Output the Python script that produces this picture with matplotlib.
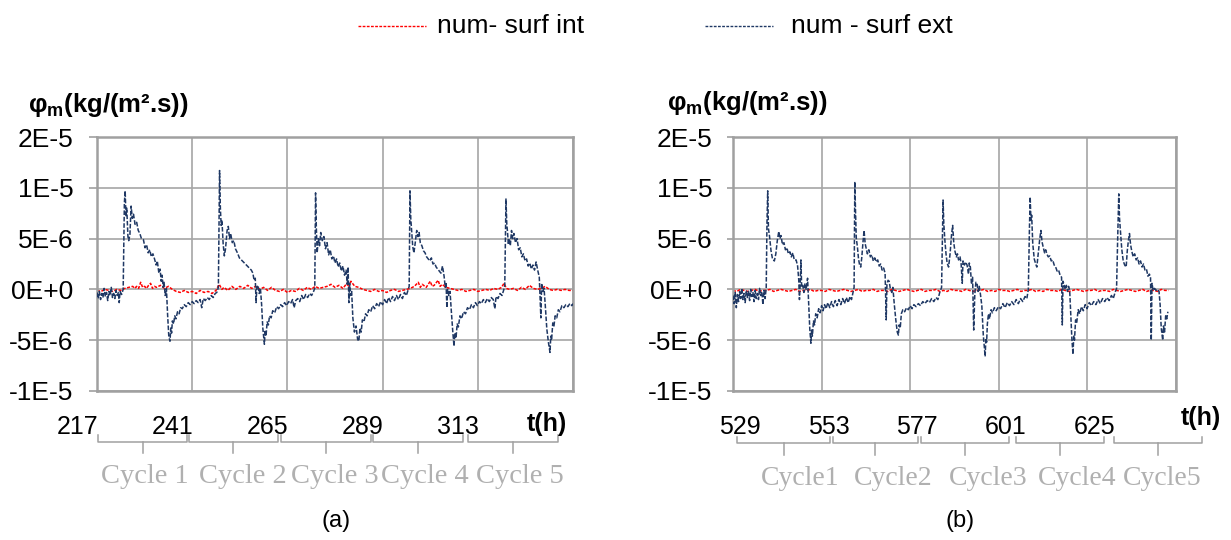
import numpy as np
import matplotlib.pyplot as plt
from matplotlib.lines import Line2D
from matplotlib.transforms import blended_transform_factory, ScaledTranslation

plt.rcParams['font.family'] = ['Liberation Sans', 'DejaVu Sans']
plt.rcParams['mathtext.fontset'] = 'custom'
plt.rcParams['mathtext.rm'] = 'Liberation Sans'
plt.rcParams['mathtext.bf'] = 'Liberation Sans:bold'

# ---------------------------------------------------------------- data
# mass flux values in units of 1E-6 kg/(m2.s), time in hours
series_names = ['num- surf int', 'num - surf ext']

# panel (a) : exterior surface (t, value)
a_blue = [
    (217.0, -0.3), (217.3, -0.9), (217.6, -0.2), (217.9, -1.0), (218.2, -0.4), (218.5, -0.8),
    (218.8, 0.1), (219.1, -0.7), (219.4, -0.3), (219.7, -1.1), (220.0, -0.2), (220.3, -0.6),
    (220.6, 0.2), (220.9, -0.8), (221.2, -0.4), (221.5, -0.9), (221.8, -0.1), (222.1, -0.6),
    (222.4, -0.3), (222.6, -1.3), (222.8, -0.2), (223.2, -0.5), (223.6, 0.0),
    (223.9, 8.5), (224.1, 9.7), (224.3, 7.2), (224.5, 8.0), (224.8, 5.2), (225.0, 4.8),
    (225.3, 5.4), (225.6, 8.2), (225.9, 7.0), (226.2, 7.4), (226.6, 6.4), (227.0, 6.6),
    (227.4, 5.8), (227.8, 5.5), (228.2, 5.0), (228.7, 4.9), (229.1, 4.1), (229.5, 4.4),
    (229.9, 3.6), (230.3, 3.9), (230.7, 3.2), (231.1, 3.5), (231.5, 3.0), (231.9, 2.4),
    (232.2, 2.8), (232.6, 1.6), (232.9, 2.0), (233.2, 0.8), (233.4, 1.4), (233.7, 0.2),
    (233.9, 0.7), (234.2, -0.6), (234.5, 0.1), (234.8, -2.5), (235.1, -4.6), (235.4, -5.1),
    (235.6, -3.8), (235.8, -4.3), (236.0, -3.1), (236.3, -3.4), (236.6, -2.6), (236.9, -2.9),
    (237.3, -2.2), (237.7, -2.4), (238.1, -1.8), (238.5, -1.9), (239.0, -1.5), (239.5, -1.7),
    (240.0, -1.3), (240.5, -1.5), (241.0, -1.2), (241.5, -1.4), (242.0, -1.1), (242.5, -1.3),
    (243.0, -1.0), (243.4, -1.8), (243.8, -0.9), (244.3, -1.1), (244.8, -0.8), (245.3, -1.0),
    (245.8, -0.6), (246.3, -0.8), (246.8, -0.4), (247.2, -0.3), (247.6, 0.2),
    (247.9, 11.7), (248.1, 8.0), (248.3, 6.3), (248.5, 6.8), (248.8, 4.5), (249.1, 3.3),
    (249.4, 4.0), (249.8, 5.8), (250.1, 6.2), (250.4, 5.0), (250.7, 5.5), (251.1, 4.6),
    (251.5, 4.8), (251.9, 4.0), (252.4, 3.6), (252.9, 3.1), (253.4, 2.9), (253.9, 2.7),
    (254.4, 2.5), (254.9, 2.3), (255.4, 2.1), (255.9, 1.9), (256.3, 1.6), (256.6, 0.9),
    (256.9, 1.1), (257.1, -1.3), (257.3, 0.2), (257.6, 0.4), (257.9, -0.4), (258.2, 0.1),
    (258.5, -1.5), (258.8, -3.8), (259.2, -5.4), (259.4, -4.0), (259.6, -4.6), (259.9, -3.2),
    (260.2, -3.5), (260.5, -2.6), (260.9, -2.8), (261.3, -2.1), (261.8, -2.3), (262.3, -1.7),
    (262.8, -1.9), (263.3, -1.5), (263.8, -1.7), (264.3, -1.3), (264.8, -1.6), (265.3, -1.2),
    (265.8, -1.4), (266.3, -1.0), (266.7, -1.8), (267.1, -1.1), (267.6, -0.9), (268.1, -1.2),
    (268.6, -0.6), (269.1, -1.0), (269.6, -0.5), (270.1, -0.8), (270.6, -0.4), (271.1, -0.6),
    (271.6, -0.2), (271.9, 0.1),
    (272.1, 9.5), (272.3, 6.0), (272.5, 3.6), (272.8, 5.0), (273.1, 4.3), (273.4, 5.6),
    (273.8, 4.8), (274.2, 5.2), (274.6, 4.0), (275.0, 4.6), (275.4, 3.4), (275.8, 3.9),
    (276.2, 3.0), (276.6, 3.3), (277.0, 2.6), (277.4, 3.0), (277.8, 2.2), (278.2, 2.6),
    (278.6, 1.8), (279.0, 2.3), (279.4, 1.4), (279.8, 1.9), (280.1, 0.5), (280.3, 2.2),
    (280.5, -1.3), (280.7, 0.6), (280.9, -0.6), (281.2, -0.2), (281.5, -2.8), (281.9, -4.2),
    (282.3, -3.6), (282.7, -4.9), (283.0, -5.1), (283.3, -3.8), (283.6, -4.2), (283.9, -3.0),
    (284.3, -3.2), (284.7, -2.4), (285.1, -2.6), (285.5, -2.0), (286.0, -2.2), (286.5, -1.6),
    (287.0, -1.9), (287.5, -1.4), (288.0, -1.7), (288.5, -1.2), (289.0, -1.5), (289.5, -1.0),
    (290.0, -1.4), (290.5, -0.8), (291.0, -1.2), (291.5, -0.7), (292.0, -1.1), (292.5, -0.6),
    (293.0, -1.0), (293.5, -0.5), (294.0, -0.9), (294.5, -0.3), (295.0, -0.6), (295.4, -0.1),
    (295.7, 0.3),
    (295.9, 9.7), (296.1, 7.0), (296.3, 5.9), (296.6, 4.2), (296.9, 3.6), (297.2, 4.5),
    (297.6, 5.8), (297.9, 5.2), (298.2, 5.6), (298.5, 4.6), (298.9, 4.3), (299.3, 3.8),
    (299.7, 3.6), (300.1, 3.2), (300.5, 3.0), (300.9, 2.8), (301.3, 3.1), (301.7, 2.5),
    (302.1, 2.6), (302.5, 2.2), (302.9, 2.0), (303.3, 1.8), (303.7, 1.6), (304.1, 2.3),
    (304.5, 1.3), (304.8, 0.2), (305.0, 0.7), (305.2, -1.8), (305.4, 0.0), (305.7, -0.6),
    (306.0, -0.2), (306.3, -2.0), (306.7, -4.2), (307.0, -5.6), (307.2, -4.3), (307.5, -4.8),
    (307.8, -3.4), (308.1, -3.7), (308.5, -2.6), (308.9, -2.9), (309.4, -2.2), (309.9, -2.4),
    (310.4, -1.8), (310.9, -2.0), (311.4, -1.5), (311.9, -1.8), (312.4, -1.3), (312.9, -1.6),
    (313.4, -1.2), (313.9, -1.4), (314.4, -1.0), (314.9, -1.3), (315.4, -0.9), (315.9, -1.2),
    (316.4, -0.8), (316.9, -1.0), (317.3, -1.9), (317.6, -0.7), (318.1, -0.9), (318.6, -0.4),
    (319.1, -0.6), (319.5, -0.1), (319.8, 0.4),
    (320.1, 8.9), (320.3, 6.5), (320.5, 5.6), (320.7, 4.4), (320.9, 5.0), (321.2, 4.3),
    (321.5, 5.8), (321.8, 5.0), (322.1, 5.5), (322.5, 4.6), (322.9, 5.0), (323.3, 3.9),
    (323.7, 4.1), (324.1, 3.2), (324.5, 3.5), (324.9, 2.8), (325.3, 3.0), (325.7, 2.3),
    (326.1, 2.6), (326.5, 2.0), (326.9, 2.4), (327.3, 1.9), (327.7, 2.7), (328.1, 1.9),
    (328.5, 1.2), (328.9, -2.8), (329.1, 0.6), (329.4, -0.2), (329.7, 0.1), (330.0, -1.5),
    (330.4, -3.9), (330.8, -5.2), (331.2, -6.2), (331.4, -4.6), (331.6, -5.0), (331.9, -3.3),
    (332.2, -3.6), (332.5, -2.6), (332.9, -2.8), (333.3, -2.0), (333.7, -2.2), (334.2, -1.6),
    (334.7, -1.8), (335.2, -1.5), (335.7, -1.7), (336.2, -1.4), (336.7, -1.6), (337.0, -1.4),
]

# panel (a) : interior surface
a_red = [
    (217, -0.1), (218, -0.2), (219, 0.0), (220, -0.1), (221, -0.2), (222, 0.0), (223, -0.1),
    (224, 0.1), (225, 0.2), (226, 0.3), (226.5, 0.1), (227, 0.3), (227.5, 0.1), (228, 0.7),
    (228.5, 0.2), (229, 0.3), (229.5, 0.1), (230, 0.4), (230.5, 0.6), (231, 0.1), (231.5, 0.3),
    (232, 0.2), (233, 0.4), (234, 0.1), (235, 0.3), (236, 0.0), (237, -0.2), (238, -0.3),
    (239, -0.1), (240, -0.3), (241, -0.2), (242, -0.4), (243, -0.1), (244, -0.3), (245, -0.2),
    (246, -0.4), (247, -0.1), (247.8, 0.5), (248.5, 0.0), (249, 0.2), (250, -0.1), (251, 0.3),
    (252, 0.0), (253, 0.3), (254, 0.1), (255, 0.4), (256, 0.1), (257, 0.3), (258, 0.0),
    (259, 0.2), (260, -0.1), (261, 0.2), (262, -0.1), (263, -0.2), (264, 0.0), (265, -0.3),
    (266, -0.1), (267, -0.2), (268, 0.1), (269, -0.1), (270, 0.2), (271, 0.0), (272, 0.3),
    (273, 0.1), (274, 0.2), (275, 0.3), (276, 0.5), (277, 0.2), (278, 0.4), (279, 0.1),
    (280, 0.6), (280.5, 0.2), (281, 0.8), (282, 0.3), (283, 0.2), (284, 0.0), (285, -0.1),
    (286, -0.2), (287, 0.0), (288, -0.2), (289, -0.1), (290, -0.3), (291, -0.1), (292, 0.0),
    (293, -0.2), (294, -0.1), (295, 0.0), (296, 0.1), (297, 0.3), (298, 0.7), (298.5, 0.2),
    (299, 0.5), (300, 0.2), (301, 0.8), (301.5, 0.3), (302, 0.4), (303, 0.9), (303.5, 0.3),
    (304, 0.5), (305, 0.2), (306, 0.1), (307, 0.0), (308, -0.1), (309, 0.0), (310, -0.2),
    (311, -0.1), (312, 0.0), (313, -0.2), (314, -0.1), (315, 0.0), (316, -0.1), (317, 0.1),
    (318, 0.0), (319, 0.2), (319.6, 0.6), (320.2, 0.1), (321, 0.0), (322, 0.1), (323, -0.1),
    (324, 0.2), (325, 0.0), (326, 0.4), (327, 0.1), (328, 0.0), (329, 0.1), (330, 0.3),
    (331, 0.0), (332, -0.1), (333, 0.0), (334, -0.1), (335, 0.0), (336, -0.1), (337, -0.1),
]

# panel (b) : exterior surface
b_blue = [
    (529.0, -0.6), (529.3, -1.4), (529.6, -0.3), (529.9, -1.8), (530.2, -0.5), (530.5, -1.2),
    (530.8, -0.2), (531.1, -0.9), (531.4, 0.1), (531.7, -1.0), (532.0, -0.4), (532.3, -1.3),
    (532.6, -0.1), (532.9, -0.8), (533.2, -0.2), (533.5, -1.1), (533.8, 0.0), (534.1, -0.7),
    (534.4, -0.3), (534.7, -1.2), (535.0, -0.1), (535.3, -0.9), (535.6, -0.4), (535.9, -1.0),
    (536.2, 0.1), (536.5, -0.6), (536.8, -0.2), (537.1, -1.5), (537.4, -0.1), (537.7, -0.9),
    (538.0, 0.2), (538.2, 6.5), (538.4, 9.7), (538.6, 6.0), (538.9, 5.2), (539.3, 3.8),
    (539.7, 3.0), (540.2, 2.8), (540.6, 3.5), (541.0, 4.8), (541.4, 5.7), (541.7, 5.0),
    (542.0, 5.3), (542.4, 4.4), (542.8, 4.6), (543.2, 3.9), (543.6, 4.1), (544.0, 3.5),
    (544.4, 3.7), (544.8, 3.2), (545.2, 3.6), (545.6, 2.9), (546.1, 2.9), (546.5, 2.3),
    (546.8, 1.0), (547.0, -1.0), (547.2, 0.5), (547.4, 2.9), (547.6, 0.2), (547.9, 0.4),
    (548.2, -0.3), (548.5, 0.6), (548.8, 0.0), (549.2, 1.1), (549.5, -1.5), (549.8, -3.9),
    (550.1, -5.3), (550.3, -4.0), (550.5, -4.6), (550.8, -3.1), (551.1, -3.5), (551.4, -2.4),
    (551.8, -2.8), (552.2, -1.9), (552.6, -2.3), (553.0, -1.6), (553.4, -2.1), (553.8, -1.5),
    (554.2, -1.9), (554.7, -1.3), (555.2, -1.8), (555.7, -1.2), (556.2, -1.7), (556.7, -1.1),
    (557.2, -1.6), (557.7, -1.0), (558.2, -1.5), (558.7, -0.9), (559.2, -1.4), (559.7, -0.8),
    (560.2, -1.3), (560.7, -0.7), (561.1, -1.0), (561.5, -0.3), (561.8, 0.2),
    (562.0, 10.6), (562.2, 7.5), (562.4, 5.0), (562.7, 4.2), (563.0, 3.0), (563.3, 2.4),
    (563.6, 2.2), (563.9, 3.2), (564.2, 4.6), (564.5, 5.8), (564.8, 4.5), (565.1, 4.0),
    (565.4, 3.5), (565.8, 3.9), (566.2, 3.2), (566.6, 3.4), (567.0, 2.8), (567.4, 3.1),
    (567.8, 2.7), (568.2, 2.9), (568.6, 2.3), (569.0, 2.5), (569.4, 1.9), (569.8, 2.1),
    (570.2, 1.6), (570.5, -3.0), (570.7, 0.5), (571.0, 0.9), (571.3, 0.8), (571.6, 0.1),
    (572.0, -0.3), (572.3, 0.2), (572.7, -1.5), (573.1, -3.0), (573.5, -4.2), (573.8, -4.5),
    (574.0, -3.5), (574.3, -3.8), (574.6, -2.4), (575.0, -2.0), (575.5, -2.2), (576.0, -1.8),
    (576.5, -2.0), (577.0, -1.6), (577.5, -1.9), (578.0, -1.5), (578.6, -1.7), (579.2, -1.4),
    (579.8, -1.6), (580.4, -1.2), (581.0, -1.4), (581.6, -1.1), (582.2, -1.3), (582.8, -0.9),
    (583.4, -1.2), (584.0, -0.8), (584.5, -1.0), (585.0, -0.3), (585.5, 0.2),
    (585.9, 8.8), (586.1, 6.5), (586.4, 4.8), (586.7, 3.5), (587.0, 2.6), (587.4, 2.2),
    (587.8, 3.5), (588.2, 5.4), (588.5, 6.3), (588.8, 4.6), (589.1, 3.8), (589.5, 3.2),
    (589.8, 3.5), (590.1, 2.9), (590.5, 3.2), (590.8, 2.5), (591.1, 0.6), (591.3, 2.8),
    (591.7, 2.4), (592.0, 2.7), (592.4, 2.4), (592.8, 1.5), (593.0, 2.6), (593.3, 2.2),
    (593.6, 0.5), (593.9, 1.2), (594.2, -4.0), (594.5, -0.5), (594.8, 0.7), (595.1, 0.6),
    (595.4, -0.2), (595.7, 0.3), (596.0, -0.4), (596.4, -1.6), (596.8, -4.5), (597.1, -5.8),
    (597.3, -6.6), (597.5, -4.8), (597.7, -5.2), (597.9, -3.4), (598.2, -2.4), (598.5, -2.9),
    (598.9, -2.0), (599.3, -2.3), (599.8, -1.8), (600.3, -2.1), (600.9, -1.7), (601.5, -1.9),
    (602.1, -1.4), (602.7, -1.8), (603.3, -1.3), (603.9, -1.6), (604.5, -1.2), (605.1, -1.5),
    (605.7, -1.0), (606.3, -1.4), (606.9, -0.9), (607.5, -1.2), (608.1, -0.7), (608.6, -0.9),
    (609.0, 0.0), (609.3, 6.0),
    (609.5, 9.1), (609.7, 6.8), (609.9, 7.3), (610.2, 4.5), (610.6, 3.0), (611.0, 2.5),
    (611.3, 2.2), (611.7, 3.6), (612.1, 5.0), (612.4, 5.8), (612.7, 4.7), (613.0, 4.2),
    (613.4, 3.6), (613.7, 3.9), (614.0, 3.5), (614.4, 3.2), (614.8, 3.3), (615.2, 2.8),
    (615.6, 2.9), (616.0, 2.4), (616.4, 2.2), (616.8, 1.8), (617.2, 1.9), (617.6, 1.4),
    (618.0, 1.2), (618.2, -3.5), (618.4, 0.8), (618.7, 0.4), (619.0, 0.0), (619.3, 0.4),
    (619.6, -0.2), (619.9, 0.3), (620.2, -0.1), (620.5, -2.4), (620.8, -4.9), (621.1, -6.4),
    (621.3, -4.6), (621.5, -5.0), (621.8, -3.0), (622.1, -3.3), (622.5, -2.0), (622.9, -2.4),
    (623.4, -1.7), (623.9, -2.1), (624.4, -1.5), (624.9, -1.9), (625.5, -1.3), (626.1, -1.6),
    (626.7, -1.2), (627.3, -1.5), (627.9, -1.0), (628.5, -1.4), (629.1, -0.9), (629.7, -1.2),
    (630.3, -0.8), (630.9, -1.1), (631.5, -0.6), (632.0, -0.9), (632.5, -0.3), (632.9, 0.1),
    (633.2, 5.0),
    (633.5, 9.4), (633.7, 7.0), (634.0, 5.5), (634.3, 4.0), (634.7, 2.8), (635.1, 2.4),
    (635.5, 2.2), (635.8, 3.8), (636.1, 4.8), (636.4, 5.5), (636.7, 4.4), (637.0, 3.8),
    (637.4, 3.2), (637.8, 3.5), (638.2, 2.9), (638.6, 3.1), (639.0, 2.5), (639.4, 2.8),
    (639.8, 2.2), (640.2, 2.5), (640.6, 1.9), (641.0, 2.0), (641.4, 1.3), (641.8, 1.5),
    (642.1, 1.2), (642.3, -5.0), (642.5, 0.6), (642.8, -0.1), (643.2, 0.1), (643.6, -0.1),
    (644.0, 0.0), (644.4, -0.2), (644.7, -1.5), (645.0, -3.8), (645.4, -5.0), (645.6, -3.6),
    (645.9, -4.2), (646.2, -2.6), (646.5, -2.9), (646.8, -2.2),
]

# panel (b) : interior surface, hourly
b_red_t = list(range(529, 648))
b_red_v = [
    -0.1, -0.2, 0.0, -0.1, -0.2, -0.1, 0.0, -0.2, -0.1, -0.1,
    0.0, -0.2, -0.1, 0.0, -0.1, -0.2, -0.1, 0.0, -0.2, -0.1,
    -0.1, 0.0, -0.2, -0.1, -0.1, -0.2, 0.0, -0.1, -0.2, -0.1,
    0.0, -0.1, -0.2, -0.1, 0.0, -0.2, -0.1, -0.1, 0.0, -0.2,
    -0.1, -0.1, -0.2, 0.0, -0.1, -0.2, -0.1, 0.0, -0.1, -0.2,
    -0.1, 0.0, -0.2, -0.1, -0.1, 0.0, -0.2, -0.1, -0.2, 0.0,
    -0.1, -0.1, -0.2, 0.0, -0.1, -0.2, -0.1, -0.1, 0.0, -0.2,
    -0.1, -0.2, 0.0, -0.1, -0.1, -0.2, -0.1, 0.0, -0.2, -0.1,
    -0.1, 0.0, -0.2, -0.1, -0.2, 0.0, -0.1, -0.1, -0.2, 0.0,
    -0.1, -0.2, -0.1, 0.0, -0.1, -0.2, -0.1, -0.1, 0.0, -0.2,
    -0.1, -0.1, -0.2, 0.0, -0.1, -0.2, -0.1, 0.0, -0.1, -0.2,
    -0.1, 0.0, -0.2, -0.1, -0.1, -0.2, 0.0, -0.1, -0.1,
]

# the top tick is 1.5E-5, printed with no decimals as "2E-5"
y_ticks = [1.5e-5, 1e-5, 5e-6, 0, -5e-6, -1e-5]
y_tick_labels = ['2E-5', '1E-5', '5E-6', '0E+0', '-5E-6', '-1E-5']
a_xticks = [217, 241, 265, 289, 313]
b_xticks = [529, 553, 577, 601, 625]
a_cycles = ['Cycle 1', 'Cycle 2', 'Cycle 3', 'Cycle 4', 'Cycle 5']
b_cycles = ['Cycle1', 'Cycle2', 'Cycle3', 'Cycle4', 'Cycle5']

# ---------------------------------------------------------------- figure
BLUE = '#1F3864'
RED = '#FF0000'
GRAY = '#A0A0A0'
W, H = 1231., 540.

fig = plt.figure(figsize=(12.31, 5.40), dpi=100)
ax_a = fig.add_axes([97/W, 1-391/H, 476/W, 254/H])
ax_b = fig.add_axes([733/W, 1-391/H, 443/W, 254/H])


def setup(ax, blue, red_t, red_v, xlim, xticks, ytick_len, ypad):
    bt = np.array([p[0] for p in blue])
    bv = np.array([p[1] for p in blue]) * 1e-6
    ax.plot(red_t, np.array(red_v)*1e-6, color=RED, lw=1.1, ls=(0, (2, 1)), zorder=2)
    ax.plot(bt, bv, color=BLUE, lw=1.1, ls=(0, (3, 1.2)), zorder=3)
    ax.set_xlim(*xlim)
    ax.set_ylim(-1e-5, 1.5e-5)
    ax.set_yticks(y_ticks)
    ax.set_yticklabels(y_tick_labels)
    ax.set_xticks(list(xticks) + [xlim[1]])
    ax.set_xticklabels([str(x) for x in xticks] + [''])
    ax.grid(True, color='#A6A6A6', lw=1.2)
    ax.set_axisbelow(True)
    for s in ax.spines.values():
        s.set_color(GRAY)
        s.set_linewidth(1.8)
    ax.tick_params(axis='y', length=ytick_len, width=1.2, color=GRAY, pad=ypad, labelsize=19)
    ax.tick_params(axis='x', length=0, pad=17, labelsize=18)


setup(ax_a, a_blue, [p[0] for p in a_red], [p[1] for p in a_red], (217, 337), a_xticks, 6, 11)
setup(ax_b, b_blue, b_red_t, b_red_v, (529, 649), b_xticks, 4.5, 10.5)

for lbl in ax_a.get_xticklabels():
    lbl.set_ha('right')
    lbl.set_transform(lbl.get_transform() + ScaledTranslation(1/100, 0, fig.dpi_scale_trans))
for lbl in ax_b.get_xticklabels():
    lbl.set_transform(lbl.get_transform() + ScaledTranslation(7/100, 0, fig.dpi_scale_trans))


def brackets(ax, spans, centers, names, y_top, y_bar, y_tick, y_txt, size):
    tr = blended_transform_factory(ax.transData, ax.transAxes)
    for (x0, x1), xc, name in zip(spans, centers, names):
        ax.plot([x0, x0, x1, x1], [y_top, y_bar, y_bar, y_top], color=GRAY, lw=1.1,
                transform=tr, clip_on=False)
        ax.plot([(x0+x1)/2, (x0+x1)/2], [y_bar, y_tick], color=GRAY, lw=1.1,
                transform=tr, clip_on=False)
        ax.text(xc, y_txt, name, transform=tr, ha='center', va='baseline', color='#B0B0B0',
                fontsize=size, family=['Liberation Serif', 'DejaVu Serif'])


brackets(ax_a, [(217.3, 239.7), (240.2, 262.6), (263.4, 286.1), (286.6, 309.3), (310.5, 333.2)],
         [229.1, 253.8, 277.0, 299.7, 323.6], a_cycles, -0.173, -0.201, -0.244, -0.362, 20.5)
brackets(ax_b, [(530.1, 555.3), (556.1, 579.1), (579.9, 603.8), (605.7, 629.5), (632.2, 656.1)],
         [547.2, 572.3, 598.1, 622.2, 645.2], b_cycles, -0.181, -0.205, -0.252, -0.37, 20)

# axis titles
ylab = 'φ$_\\mathbf{m}$(kg/(m².s))'
fig.text(28/W, 1-105/H, ylab, ha='left', va='center', fontsize=18.5, fontweight='bold')
fig.text(667/W, 1-103/H, ylab, ha='left', va='center', fontsize=18.5, fontweight='bold')
fig.text(547/W, 1-424/H, 't(h)', ha='center', va='center', fontsize=18, fontweight='bold')
fig.text(1201/W, 1-418/H, 't(h)', ha='center', va='center', fontsize=18, fontweight='bold')
fig.text(336/W, 1-521/H, '(a)', ha='center', va='center', fontsize=17)
fig.text(960/W, 1-521/H, '(b)', ha='center', va='center', fontsize=17)

# legend drawn at the top
fig.add_artist(Line2D([358/W, 426/W], [1-26/H, 1-26/H], color=RED, lw=1.0, ls=(0, (2, 1))))
fig.text(437/W, 1-26/H, series_names[0], ha='left', va='center', fontsize=19)
fig.add_artist(Line2D([705/W, 773/W], [1-26/H, 1-26/H], color=BLUE, lw=1.0, ls=(0, (2, 1))))
fig.text(791/W, 1-26/H, series_names[1], ha='left', va='center', fontsize=19)

fig.savefig('out.png', dpi=100, facecolor='w')
